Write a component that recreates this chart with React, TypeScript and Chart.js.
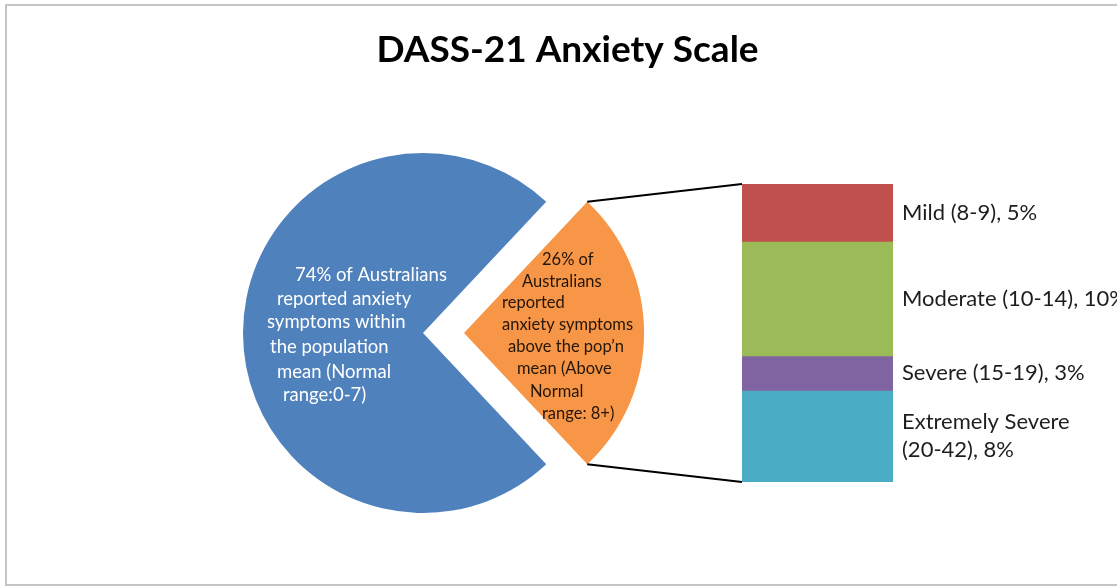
import React, { useEffect, useRef } from "react";
import { Chart, registerables } from "chart.js";

Chart.register(...registerables);

// ---------- data ----------
const chartTitle = "DASS-21 Anxiety Scale";
const pieCategories = ["Normal range (0-7)", "Above Normal range (8+)"];
const pieValues = [74, 26];
const normalLabelLines = [
  "74% of Australians",
  "reported anxiety",
  "symptoms within",
  "the population",
  "mean (Normal",
  "range:0-7)",
];
const aboveLabelLines = [
  "26% of",
  "Australians",
  "reported",
  "anxiety symptoms",
  "above the pop\u2019n",
  "mean (Above",
  "Normal",
  "range: 8+)",
];
const barNames = ["Mild", "Moderate", "Severe", "Extremely Severe"];
const barRanges = ["(8-9)", "(10-14)", "(15-19)", "(20-42)"];
const barValues = [5, 10, 3, 8];

// ---------- styles / layout ----------
const W = 1117;
const H = 587;
const FONT = "Lato, 'Open Sans', 'DejaVu Sans', sans-serif";
const PIE_COLORS = ["#4F81BD", "#F79646"];
const BAR_COLORS = ["#C0504D", "#9BBB59", "#8064A2", "#4BACC6"];
const EXPLODE_PX = 41; // visual explosion of the "above normal" slice

// per-line text anchors (left x, middle y) relative to the drawn slice centre
const normalLabelPos = [
  [-128, -58],
  [-146, -34],
  [-156, -11],
  [-153, 14],
  [-146, 39],
  [-140, 62],
];
const aboveLabelPos = [
  [78, -73],
  [58, -51],
  [38, -30],
  [38, -8],
  [44, 14],
  [53, 36],
  [66, 59],
  [78, 81],
];

// Chart.js translates an arc by offset / 4 when drawing it
function sliceCenter(arc: any) {
  const mid = (arc.startAngle + arc.endAngle) / 2;
  const off = (arc.options.offset || 0) / 4;
  return { x: arc.x + Math.cos(mid) * off, y: arc.y + Math.sin(mid) * off };
}

export default function App() {
  const pieRef = useRef<HTMLCanvasElement | null>(null);
  const barRef = useRef<HTMLCanvasElement | null>(null);

  useEffect(() => {
    if (!pieRef.current || !barRef.current) return;

    const titlePlugin = {
      id: "customTitle",
      afterDraw(chart: any) {
        const ctx = chart.ctx;
        ctx.save();
        ctx.font = `bold 37px ${FONT}`;
        ctx.fillStyle = "#000000";
        ctx.textAlign = "center";
        ctx.textBaseline = "middle";
        ctx.fillText(chartTitle, chart.width / 2 + 9, 50);
        ctx.restore();
      },
    };

    const pieTextPlugin = {
      id: "pieText",
      afterDatasetsDraw(chart: any) {
        const ctx = chart.ctx;
        const arcs = chart.getDatasetMeta(0).data;
        const specs = [
          { lines: normalLabelLines, pos: normalLabelPos, color: "#FFFFFF", font: `18.5px ${FONT}` },
          { lines: aboveLabelLines, pos: aboveLabelPos, color: "#24160A", font: `16.5px ${FONT}` },
        ];
        ctx.save();
        ctx.textAlign = "left";
        ctx.textBaseline = "middle";
        specs.forEach((s, i) => {
          const c = sliceCenter(arcs[i]);
          ctx.font = s.font;
          ctx.fillStyle = s.color;
          s.lines.forEach((t, j) => {
            ctx.fillText(t, c.x + s.pos[j][0], c.y + s.pos[j][1]);
          });
        });
        ctx.restore();
      },
    };

    const pie = new Chart(pieRef.current, {
      type: "pie",
      data: {
        labels: pieCategories,
        datasets: [
          {
            data: pieValues,
            backgroundColor: PIE_COLORS,
            borderWidth: 0,
            offset: [0, EXPLODE_PX * 4],
          },
        ],
      },
      options: {
        responsive: false,
        animation: false,
        events: [],
        rotation: 136.8,
        radius: 180,
        layout: { padding: { left: 0, right: 271, top: 79, bottom: 0 } },
        plugins: {
          legend: { display: false },
          tooltip: { enabled: false },
          title: { display: false },
        },
      },
      plugins: [titlePlugin, pieTextPlugin],
    });

    const total = barValues.reduce((a, b) => a + b, 0);

    const connectorPlugin = {
      id: "connectors",
      afterDatasetsDraw(chart: any) {
        const ctx = chart.ctx;
        const arc: any = pie.getDatasetMeta(0).data[1];
        const c = sliceCenter(arc);
        const r = arc.outerRadius;
        const p1 = { x: c.x + Math.cos(arc.startAngle) * r, y: c.y + Math.sin(arc.startAngle) * r };
        const p2 = { x: c.x + Math.cos(arc.endAngle) * r, y: c.y + Math.sin(arc.endAngle) * r };
        const first: any = chart.getDatasetMeta(0).data[0];
        const yScale = chart.scales.y;
        const left = first.x - first.width / 2;
        const top = yScale.getPixelForValue(0);
        const bottom = yScale.getPixelForValue(total);
        ctx.save();
        ctx.strokeStyle = "#000000";
        ctx.lineWidth = 2;
        ctx.beginPath();
        ctx.moveTo(p1.x, p1.y);
        ctx.lineTo(left, top);
        ctx.moveTo(p2.x, p2.y);
        ctx.lineTo(left, bottom);
        ctx.stroke();
        ctx.restore();
      },
    };

    const barLabelPlugin = {
      id: "barLabels",
      afterDatasetsDraw(chart: any) {
        const ctx = chart.ctx;
        ctx.save();
        ctx.font = `22px ${FONT}`;
        ctx.fillStyle = "#1E1E1E";
        ctx.textAlign = "left";
        ctx.textBaseline = "middle";
        const lh = 28;
        barNames.forEach((name, i) => {
          const el: any = chart.getDatasetMeta(i).data[0];
          const x = el.x + el.width / 2 + 9;
          const cy = (el.y + el.base) / 2;
          const tail = `${barRanges[i]}, ${barValues[i]}%`;
          const lines = name.indexOf(" ") >= 0 ? [name, tail] : [`${name} ${tail}`];
          lines.forEach((t, j) => {
            ctx.fillText(t, x, cy + (j - (lines.length - 1) / 2) * lh);
          });
        });
        ctx.restore();
      },
    };

    const bar = new Chart(barRef.current, {
      type: "bar",
      data: {
        labels: ["Above Normal"],
        datasets: barNames.map((n, i) => ({
          label: `${n} ${barRanges[i]}`,
          data: [barValues[i]],
          backgroundColor: BAR_COLORS[i],
          borderWidth: 0,
          categoryPercentage: 1,
          barPercentage: 1,
        })),
      },
      options: {
        responsive: false,
        animation: false,
        events: [],
        layout: { padding: { left: 742, right: W - 893, top: 184, bottom: H - 482 } },
        scales: {
          x: { display: false, stacked: true },
          y: { display: false, stacked: true, reverse: true, min: 0, max: total },
        },
        plugins: {
          legend: { display: false },
          tooltip: { enabled: false },
        },
      },
      plugins: [connectorPlugin, barLabelPlugin],
    });

    return () => {
      bar.destroy();
      pie.destroy();
    };
  }, []);

  return (
    <div
      style={{
        position: "absolute",
        left: 0,
        top: 0,
        width: W,
        height: H,
        overflow: "hidden",
        background: "#FFFFFF",
      }}
    >
      <div
        style={{
          position: "absolute",
          left: 5,
          top: 4,
          width: 1200,
          height: 582,
          boxSizing: "border-box",
          border: "2px solid #C4C4C4",
        }}
      />
      <canvas
        ref={pieRef}
        width={W}
        height={H}
        style={{ position: "absolute", left: 0, top: 0 }}
      />
      <canvas
        ref={barRef}
        width={W}
        height={H}
        style={{ position: "absolute", left: 0, top: 0 }}
      />
    </div>
  );
}
